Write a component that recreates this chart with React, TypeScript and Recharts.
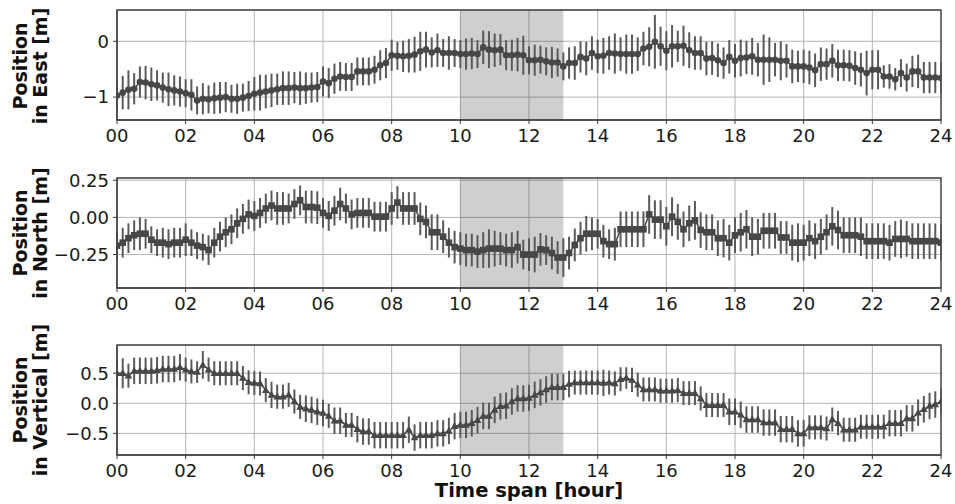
import React from 'react';
import { ComposedChart, Line, ErrorBar, XAxis, YAxis, CartesianGrid, ReferenceArea } from 'recharts';

// 10-minute epochs, 00:00 .. 24:00
const epochHours: number[] = Array.from({ length: 145 }, (_, i) => i / 6);

const xTicks = [0, 2, 4, 6, 8, 10, 12, 14, 16, 18, 20, 22, 24];
const xTickLabels = ['00', '02', '04', '06', '08', '10', '12', '14', '16', '18', '20', '22', '24'];

const shadeStart = 10;
const shadeEnd = 13;

const eastValues = [
  -0.97, -0.92, -0.87, -0.85, -0.73, -0.74,
  -0.77, -0.79, -0.83, -0.86, -0.88, -0.90,
  -0.93, -0.96, -1.06, -1.03, -1.04, -1.02,
  -1.01, -1.00, -1.03, -1.03, -1.01, -0.98,
  -0.94, -0.92, -0.90, -0.88, -0.86, -0.84,
  -0.84, -0.83, -0.84, -0.84, -0.83, -0.82,
  -0.72, -0.75, -0.67, -0.63, -0.64, -0.64,
  -0.54, -0.54, -0.54, -0.51, -0.43, -0.39,
  -0.25, -0.26, -0.27, -0.26, -0.24, -0.18,
  -0.15, -0.20, -0.16, -0.21, -0.21, -0.21,
  -0.23, -0.23, -0.22, -0.23, -0.11, -0.15,
  -0.16, -0.15, -0.25, -0.25, -0.24, -0.25,
  -0.34, -0.34, -0.33, -0.36, -0.38, -0.38,
  -0.45, -0.39, -0.39, -0.28, -0.31, -0.21,
  -0.27, -0.26, -0.21, -0.22, -0.23, -0.23,
  -0.23, -0.23, -0.13, -0.10, -0.01, -0.09,
  -0.17, -0.09, -0.09, -0.08, -0.16, -0.21,
  -0.21, -0.31, -0.30, -0.34, -0.39, -0.28,
  -0.35, -0.30, -0.29, -0.27, -0.33, -0.33,
  -0.33, -0.33, -0.35, -0.35, -0.45, -0.45,
  -0.45, -0.47, -0.52, -0.41, -0.41, -0.35,
  -0.43, -0.43, -0.44, -0.48, -0.51, -0.57,
  -0.51, -0.51, -0.63, -0.63, -0.68, -0.57,
  -0.65, -0.54, -0.54, -0.65, -0.65, -0.65,
  -0.66,
];
const eastErrors = [
  0.25, 0.30, 0.35, 0.28, 0.28, 0.30,
  0.30, 0.27, 0.27, 0.30, 0.27, 0.27,
  0.25, 0.28, 0.25, 0.28, 0.25, 0.28,
  0.28, 0.27, 0.25, 0.27, 0.25, 0.27,
  0.30, 0.32, 0.30, 0.30, 0.28, 0.30,
  0.30, 0.28, 0.30, 0.28, 0.27, 0.27,
  0.27, 0.27, 0.27, 0.26, 0.25, 0.25,
  0.25, 0.25, 0.25, 0.25, 0.27, 0.27,
  0.28, 0.25, 0.28, 0.30, 0.32, 0.35,
  0.32, 0.27, 0.30, 0.25, 0.30, 0.25,
  0.25, 0.28, 0.28, 0.25, 0.30, 0.33,
  0.30, 0.28, 0.27, 0.28, 0.30, 0.35,
  0.25, 0.28, 0.25, 0.25, 0.28, 0.25,
  0.25, 0.28, 0.30, 0.28, 0.30, 0.30,
  0.30, 0.32, 0.30, 0.36, 0.30, 0.35,
  0.35, 0.30, 0.30, 0.35, 0.48, 0.35,
  0.35, 0.38, 0.28, 0.36, 0.32, 0.30,
  0.30, 0.30, 0.30, 0.30, 0.28, 0.30,
  0.30, 0.33, 0.30, 0.33, 0.30, 0.45,
  0.40, 0.30, 0.35, 0.30, 0.30, 0.28,
  0.30, 0.30, 0.30, 0.30, 0.28, 0.30,
  0.28, 0.28, 0.28, 0.30, 0.30, 0.40,
  0.35, 0.35, 0.20, 0.22, 0.20, 0.25,
  0.25, 0.28, 0.30, 0.28, 0.28, 0.28,
  0.28,
];

const northValues = [
  -0.19, -0.17, -0.14, -0.12, -0.11, -0.11,
  -0.15, -0.17, -0.17, -0.18, -0.17, -0.17,
  -0.15, -0.17, -0.19, -0.20, -0.22, -0.17,
  -0.13, -0.10, -0.08, -0.04, -0.01, 0.02,
  0.01, 0.03, 0.06, 0.08, 0.06, 0.06,
  0.06, 0.09, 0.115, 0.07, 0.07, 0.065,
  0.03, 0.01, 0.045, 0.09, 0.06, 0.02,
  0.03, 0.03, 0.03, 0.005, 0.005, 0.005,
  0.06, 0.10, 0.06, 0.06, 0.06, -0.01,
  -0.03, -0.10, -0.10, -0.13, -0.17, -0.20,
  -0.21, -0.22, -0.22, -0.23, -0.22, -0.21,
  -0.21, -0.21, -0.22, -0.22, -0.20, -0.25,
  -0.25, -0.25, -0.215, -0.22, -0.24, -0.27,
  -0.27, -0.24, -0.185, -0.14, -0.11, -0.11,
  -0.11, -0.16, -0.18, -0.18, -0.08, -0.08,
  -0.08, -0.08, -0.08, 0.02, -0.015, -0.015,
  -0.06, 0.005, -0.03, -0.08, -0.04, -0.02,
  -0.085, -0.10, -0.10, -0.14, -0.14, -0.17,
  -0.12, -0.10, -0.08, -0.13, -0.13, -0.09,
  -0.09, -0.09, -0.135, -0.135, -0.17, -0.17,
  -0.17, -0.14, -0.16, -0.13, -0.10, -0.06,
  -0.085, -0.12, -0.12, -0.12, -0.13, -0.16,
  -0.16, -0.16, -0.16, -0.17, -0.145, -0.145,
  -0.145, -0.16, -0.16, -0.16, -0.16, -0.16,
  -0.17,
];
const northErrors = [
  0.09, 0.10, 0.10, 0.10, 0.11, 0.10,
  0.09, 0.09, 0.10, 0.10, 0.10, 0.10,
  0.11, 0.09, 0.09, 0.09, 0.10, 0.10,
  0.10, 0.10, 0.10, 0.10, 0.10, 0.10,
  0.10, 0.10, 0.10, 0.10, 0.11, 0.11,
  0.10, 0.10, 0.10, 0.11, 0.11, 0.11,
  0.10, 0.10, 0.10, 0.11, 0.10, 0.10,
  0.10, 0.10, 0.10, 0.10, 0.10, 0.10,
  0.11, 0.11, 0.11, 0.11, 0.11, 0.11,
  0.11, 0.12, 0.12, 0.11, 0.10, 0.11,
  0.11, 0.11, 0.11, 0.11, 0.12, 0.13,
  0.12, 0.11, 0.11, 0.12, 0.11, 0.10,
  0.11, 0.12, 0.11, 0.10, 0.11, 0.11,
  0.13, 0.11, 0.11, 0.11, 0.12, 0.11,
  0.10, 0.11, 0.10, 0.11, 0.12, 0.12,
  0.12, 0.12, 0.12, 0.13, 0.13, 0.13,
  0.13, 0.13, 0.12, 0.12, 0.12, 0.13,
  0.12, 0.12, 0.12, 0.12, 0.13, 0.12,
  0.12, 0.13, 0.13, 0.13, 0.12, 0.12,
  0.12, 0.12, 0.11, 0.11, 0.12, 0.13,
  0.12, 0.12, 0.12, 0.12, 0.12, 0.13,
  0.13, 0.12, 0.12, 0.12, 0.13, 0.12,
  0.12, 0.12, 0.12, 0.12, 0.12, 0.13,
  0.12, 0.12, 0.12, 0.12, 0.12, 0.12,
  0.12,
];

const verticalValues = [
  0.50, 0.50, 0.46, 0.54, 0.54, 0.54,
  0.54, 0.55, 0.57, 0.57, 0.57, 0.60,
  0.56, 0.53, 0.52, 0.64, 0.56, 0.50,
  0.50, 0.50, 0.50, 0.50, 0.42, 0.35,
  0.34, 0.33, 0.22, 0.14, 0.11, 0.11,
  0.14, 0.03, -0.06, -0.09, -0.11, -0.14,
  -0.16, -0.21, -0.29, -0.29, -0.36, -0.36,
  -0.43, -0.47, -0.47, -0.53, -0.53, -0.53,
  -0.53, -0.53, -0.53, -0.44, -0.57, -0.53,
  -0.53, -0.53, -0.50, -0.50, -0.46, -0.38,
  -0.36, -0.36, -0.33, -0.28, -0.21, -0.21,
  -0.11, -0.05, -0.04, 0.03, 0.08, 0.08,
  0.09, 0.14, 0.18, 0.23, 0.27, 0.27,
  0.27, 0.32, 0.345, 0.345, 0.345, 0.345,
  0.345, 0.34, 0.345, 0.33, 0.40, 0.42,
  0.39, 0.31, 0.23, 0.23, 0.23, 0.21,
  0.21, 0.21, 0.22, 0.17, 0.17, 0.17,
  0.08, -0.03, -0.03, -0.03, -0.03, -0.14,
  -0.14, -0.19, -0.27, -0.27, -0.27, -0.32,
  -0.32, -0.32, -0.43, -0.43, -0.43, -0.50,
  -0.50, -0.40, -0.40, -0.40, -0.42, -0.27,
  -0.33, -0.44, -0.44, -0.44, -0.39, -0.39,
  -0.39, -0.39, -0.39, -0.33, -0.33, -0.33,
  -0.25, -0.25, -0.155, -0.10, -0.045, -0.02,
  0.03,
];
const verticalErrors = [
  0.23, 0.25, 0.20, 0.22, 0.22, 0.22,
  0.22, 0.22, 0.22, 0.22, 0.22, 0.22,
  0.20, 0.20, 0.18, 0.23, 0.20, 0.20,
  0.20, 0.20, 0.20, 0.20, 0.20, 0.20,
  0.20, 0.20, 0.20, 0.22, 0.20, 0.20,
  0.20, 0.20, 0.20, 0.22, 0.22, 0.22,
  0.22, 0.20, 0.22, 0.22, 0.20, 0.20,
  0.22, 0.22, 0.22, 0.22, 0.22, 0.22,
  0.22, 0.22, 0.22, 0.22, 0.22, 0.22,
  0.22, 0.22, 0.22, 0.22, 0.22, 0.22,
  0.22, 0.22, 0.22, 0.22, 0.22, 0.22,
  0.22, 0.22, 0.22, 0.22, 0.22, 0.22,
  0.22, 0.22, 0.22, 0.22, 0.22, 0.22,
  0.22, 0.22, 0.20, 0.20, 0.20, 0.20,
  0.20, 0.22, 0.20, 0.20, 0.20, 0.18,
  0.20, 0.20, 0.20, 0.20, 0.20, 0.20,
  0.20, 0.20, 0.20, 0.20, 0.20, 0.20,
  0.20, 0.20, 0.20, 0.20, 0.20, 0.22,
  0.22, 0.22, 0.22, 0.22, 0.22, 0.22,
  0.22, 0.22, 0.22, 0.22, 0.22, 0.22,
  0.22, 0.20, 0.20, 0.20, 0.20, 0.20,
  0.20, 0.20, 0.20, 0.20, 0.20, 0.20,
  0.20, 0.20, 0.20, 0.22, 0.22, 0.22,
  0.22, 0.22, 0.22, 0.22, 0.22, 0.22,
  0.22,
];

const eastTicks = [-1, 0];
const eastTickLabels = ['\u22121', '0'];
const northTicks = [-0.25, 0, 0.25];
const northTickLabels = ['\u22120.25', '0.00', '0.25'];
const verticalTicks = [-0.5, 0, 0.5];
const verticalTickLabels = ['\u22120.5', '0.0', '0.5'];

const MARK = '#474747';
const BAR = '#5a5a5a';
const FRAME = '#3a3a3a';
const FONT = 'DejaVu Sans';

type MarkerKind = 'circle' | 'square' | 'triangle';

const makeDot = (kind: MarkerKind) => (props: any) => {
  const { cx, cy, index } = props;
  if (cx == null || cy == null) return <g key={`d${index}`} />;
  if (kind === 'circle') return <circle key={`d${index}`} cx={cx} cy={cy} r={3.3} fill={MARK} />;
  if (kind === 'square') return <rect key={`d${index}`} x={cx - 3.3} y={cy - 3.3} width={6.6} height={6.6} fill={MARK} />;
  return <polygon key={`d${index}`} points={`${cx},${cy - 4.2} ${cx - 3.8},${cy + 2.8} ${cx + 3.8},${cy + 2.8}`} fill={MARK} />;
};

interface PanelProps {
  top: number;
  values: number[];
  errors: number[];
  domain: [number, number];
  yTicks: number[];
  yTickLabels: string[];
  marker: MarkerKind;
}

const Panel = ({ top, values, errors, domain, yTicks, yTickLabels, marker }: PanelProps) => {
  const data = epochHours.map((t, i) => ({ t, v: values[i], e: errors[i] }));
  return (
    <div style={{ position: 'absolute', left: 0, top, width: 955, height: 165 }}>
      <ComposedChart width={955} height={165} data={data} margin={{ top: 10, right: 14, bottom: 15, left: 57 }}>
        <CartesianGrid stroke="#b5b5b5" strokeWidth={1} verticalValues={xTicks} horizontalValues={yTicks} />
        <ReferenceArea x1={shadeStart} x2={shadeEnd} y1={domain[0]} y2={domain[1]} fill="#000" fillOpacity={0.19} stroke="none" ifOverflow="hidden" />
        <XAxis
          dataKey="t"
          type="number"
          domain={[0, 24]}
          ticks={xTicks}
          interval={0}
          allowDataOverflow
          height={30}
          tickSize={4}
          tickMargin={5}
          stroke={FRAME}
          tickFormatter={(v: number) => xTickLabels[xTicks.indexOf(v)] ?? ''}
          tick={{ fill: '#1a1a1a', fontSize: 18, fontFamily: FONT }}
        />
        <YAxis
          type="number"
          domain={domain}
          ticks={yTicks}
          interval={0}
          allowDataOverflow
          width={60}
          tickSize={4}
          tickMargin={4}
          stroke={FRAME}
          tickFormatter={(v: number) => yTickLabels[yTicks.indexOf(v)] ?? ''}
          tick={{ fill: '#1a1a1a', fontSize: 18, fontFamily: FONT }}
        />
        <Line
          dataKey="v"
          stroke={MARK}
          strokeWidth={1.5}
          dot={makeDot(marker)}
          activeDot={false}
          isAnimationActive={false}
        >
          <ErrorBar dataKey="e" direction="y" width={0} stroke={BAR} strokeWidth={2} isAnimationActive={false} />
        </Line>
        <ReferenceArea x1={0} x2={24} y1={domain[0]} y2={domain[1]} fill="none" stroke={FRAME} strokeWidth={1.3} ifOverflow="visible" />
      </ComposedChart>
    </div>
  );
};

const YLabel = ({ cy, line1, line2 }: { cy: number; line1: string; line2: string }) => (
  <g fontFamily={FONT} fontWeight="bold" fontSize={19} fill="#111">
    <text transform={`translate(27, ${cy}) rotate(-90)`} textAnchor="middle">{line1}</text>
    <text transform={`translate(47, ${cy}) rotate(-90)`} textAnchor="middle">{line2}</text>
  </g>
);

export default function App() {
  return (
    <div style={{ position: 'absolute', left: 0, top: 0, width: 955, height: 504, background: '#fff', overflow: 'hidden' }}>
      <Panel top={0} values={eastValues} errors={eastErrors} domain={[-1.41, 0.56]} yTicks={eastTicks} yTickLabels={eastTickLabels} marker="circle" />
      <Panel top={168} values={northValues} errors={northErrors} domain={[-0.475, 0.265]} yTicks={northTicks} yTickLabels={northTickLabels} marker="square" />
      <Panel top={335} values={verticalValues} errors={verticalErrors} domain={[-0.86, 0.97]} yTicks={verticalTicks} yTickLabels={verticalTickLabels} marker="triangle" />
      <svg width={955} height={504} style={{ position: 'absolute', left: 0, top: 0, pointerEvents: 'none' }}>
        <YLabel cy={66} line1="Position" line2="in East [m]" />
        <YLabel cy={233} line1="Position" line2="in North [m]" />
        <YLabel cy={400} line1="Position" line2="in Vertical [m]" />
        <text x={529} y={497} textAnchor="middle" fontFamily={FONT} fontWeight="bold" fontSize={19.5} fill="#111">Time span [hour]</text>
      </svg>
    </div>
  );
}
